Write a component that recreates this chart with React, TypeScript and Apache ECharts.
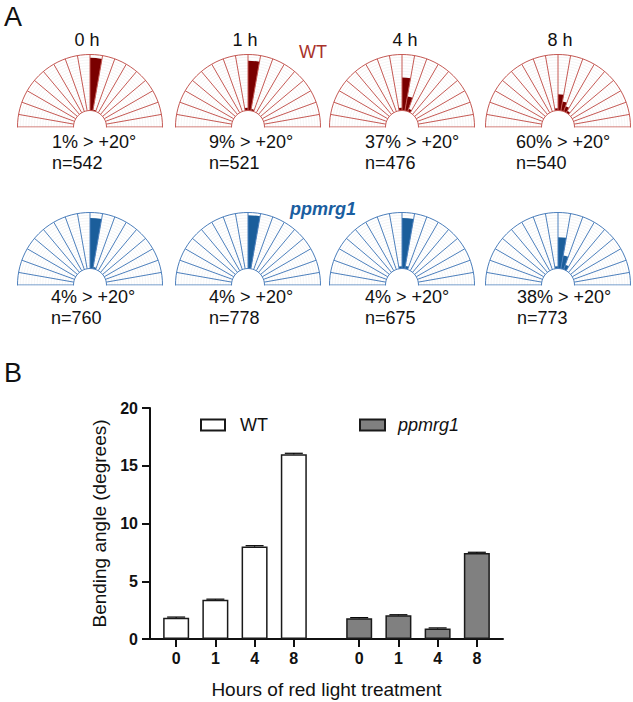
import React, { useEffect, useRef } from "react";
import * as echarts from "echarts";

// ---------- Panel A data ----------
const timePoints = ["0 h", "1 h", "4 h", "8 h"];
// upper half-circle bins, left (-90) to right (+90)
const angleBins = ["-90", "-80", "-70", "-60", "-50", "-40", "-30", "-20", "-10", "0", "10", "20", "30", "40", "50", "60", "70", "80"];

const wtHist0 = [0, 0, 0, 0, 0, 0, 0, 0, 0, 94, 2, 0, 0, 0, 0, 0, 0, 0];
const wtHist1 = [0, 0, 0, 0, 0, 0, 0, 0, 5, 89, 3, 0, 0, 0, 0, 0, 0, 0];
const wtHist4 = [0, 0, 0, 0, 0, 0, 0, 0, 5, 59, 26, 5, 0, 0, 0, 0, 0, 0];
const wtHist8 = [0, 0, 0, 0, 0, 0, 0, 0, 4, 29, 17, 10, 4, 0, 0, 0, 0, 0];
const mutHist0 = [0, 0, 0, 0, 0, 0, 0, 0, 0, 90, 3, 0, 0, 0, 0, 0, 0, 0];
const mutHist1 = [0, 0, 0, 0, 0, 0, 0, 0, 0, 95, 0, 0, 0, 0, 0, 0, 0, 0];
const mutHist4 = [0, 0, 0, 0, 0, 0, 0, 0, 4, 90, 5, 0, 0, 0, 0, 0, 0, 0];
const mutHist8 = [0, 0, 0, 0, 0, 0, 0, 0, 4, 56, 24, 9, 0, 0, 0, 0, 0, 0];

const wtPct = ["1% > +20°", "9% > +20°", "37% > +20°", "60% > +20°"];
const wtN = ["n=542", "n=521", "n=476", "n=540"];
const mutPct = ["4% > +20°", "4% > +20°", "4% > +20°", "38% > +20°"];
const mutN = ["n=760", "n=778", "n=675", "n=773"];

// ---------- Panel B data ----------
const hours = ["0", "1", "4", "8"];
const wtAngle = [1.85, 3.4, 8.0, 16.0];
const wtErr = [0.05, 0.05, 0.08, 0.08];
const mutAngle = [1.8, 2.05, 0.9, 7.45];
const mutErr = [0.05, 0.05, 0.06, 0.06];

// ---------- layout / style ----------
const FONT = 'Arial, "Liberation Sans", Helvetica, sans-serif';
const centersX = [90, 248, 402, 558];
const rowY = [127, 285];
const titleX = [87, 245, 405, 560];
const wtTextX = [52, 209, 365, 516];
const mutTextX = [51, 209, 365, 517];
const R_IN = 16.5;
const R_OUT = 72.5;
const wtLine = "#c65a55";
const wtBar = "#7a0000";
const mutLine = "#4d80bd";
const mutBar = "#1b5e9b";

export default function App() {
  const ref = useRef<HTMLDivElement>(null);

  useEffect(() => {
    if (!ref.current) return;
    const chart = echarts.init(ref.current, undefined, { renderer: "svg" });

    const rows = [
      { hists: [wtHist0, wtHist1, wtHist4, wtHist8], line: wtLine, bar: wtBar },
      { hists: [mutHist0, mutHist1, mutHist4, mutHist8], line: mutLine, bar: mutBar },
    ];

    // full circle: upper half = the histogram bins, lower half = empty (masked)
    const fullBins = angleBins.concat(angleBins.map((b) => "lower" + b));

    const polar: any[] = [];
    const angleAxis: any[] = [];
    const radiusAxis: any[] = [];
    const series: any[] = [];
    const graphic: any[] = [];
    rows.forEach((row, r) => {
      row.hists.forEach((h, c) => {
        const idx = polar.length;
        polar.push({ center: [centersX[c], rowY[r]], radius: [R_IN, R_OUT] });
        angleAxis.push({
          polarIndex: idx,
          type: "category",
          data: fullBins,
          startAngle: 180,
          clockwise: true,
          boundaryGap: true,
          axisLine: { show: true, lineStyle: { color: row.line, width: 1 } },
          axisTick: { show: false, interval: 0 },
          axisLabel: { show: false, interval: 0 },
          splitLine: { show: true, interval: 0, lineStyle: { color: row.line, width: 1 } },
          z: 5,
        });
        radiusAxis.push({
          polarIndex: idx,
          type: "value",
          min: 0,
          max: 100,
          interval: 5,
          axisLine: { show: false },
          axisTick: { show: false },
          axisLabel: { show: false },
          splitLine: { show: true, lineStyle: { color: "#efefef", width: 0.6 } },
        });
        series.push({
          type: "bar",
          coordinateSystem: "polar",
          polarIndex: idx,
          data: h.concat(angleBins.map(() => 0)),
          barCategoryGap: "0%",
          itemStyle: { color: row.bar },
          silent: true,
          z: 3,
        });
        // white mask hiding the lower half of the circle
        graphic.push({
          type: "rect",
          silent: true,
          z: 50,
          shape: { x: centersX[c] - R_OUT - 3, y: rowY[r] + 0.6, width: 2 * R_OUT + 6, height: R_OUT + 4 },
          style: { fill: "#ffffff" },
        });
      });
    });

    // ---------- Panel B category slots ----------
    const slots: string[] = ["", ""];
    const wtSlot: number[] = [];
    const mutSlot: number[] = [];
    hours.forEach((hr, i) => {
      if (i > 0) slots.push("", "");
      wtSlot.push(slots.length);
      slots.push(hr);
    });
    slots.push("", "", "", "");
    hours.forEach((hr, i) => {
      if (i > 0) slots.push("", "");
      mutSlot.push(slots.length);
      slots.push(hr);
    });
    slots.push("", "");

    const wtData: any[] = slots.map(() => "-");
    const mutData: any[] = slots.map(() => "-");
    wtSlot.forEach((s, i) => (wtData[s] = wtAngle[i]));
    mutSlot.forEach((s, i) => (mutData[s] = mutAngle[i]));
    const errData: any[] = [];
    wtSlot.forEach((s, i) => errData.push([s, wtAngle[i], wtErr[i]]));
    mutSlot.forEach((s, i) => errData.push([s, mutAngle[i], mutErr[i]]));

    series.push(
      {
        name: "WT",
        type: "bar",
        xAxisIndex: 0,
        yAxisIndex: 0,
        data: wtData,
        barWidth: 26,
        barGap: "-100%",
        itemStyle: { color: "#ffffff", borderColor: "#1a1a1a", borderWidth: 1.5 },
      },
      {
        name: "ppmrg1",
        type: "bar",
        xAxisIndex: 0,
        yAxisIndex: 0,
        data: mutData,
        barWidth: 26,
        barGap: "-100%",
        itemStyle: { color: "#808080", borderColor: "#1a1a1a", borderWidth: 1.5 },
      },
      {
        type: "custom",
        xAxisIndex: 0,
        yAxisIndex: 0,
        data: errData,
        encode: { x: 0, y: 1 },
        z: 10,
        renderItem: (params: any, api: any) => {
          const base = api.coord([api.value(0), api.value(1)]);
          const top = api.coord([api.value(0), api.value(1) + api.value(2)]);
          const hw = 9;
          return {
            type: "group",
            children: [
              { type: "line", shape: { x1: base[0], y1: base[1], x2: top[0], y2: top[1] }, style: { stroke: "#000", lineWidth: 1.2 } },
              { type: "line", shape: { x1: top[0] - hw, y1: top[1], x2: top[0] + hw, y2: top[1] }, style: { stroke: "#000", lineWidth: 1.2 } },
            ],
          };
        },
      }
    );

    // ---------- graphic texts ----------
    const txt = (text: string, x: number, y: number, extra: any = {}) => ({
      type: "text",
      x,
      y,
      z: 60,
      silent: true,
      style: {
        text,
        fontFamily: FONT,
        fontSize: 18,
        fill: "#111",
        align: "left",
        verticalAlign: "middle",
        ...extra,
      },
    });
    graphic.push(txt("A", 4, 17, { fontSize: 27 }));
    graphic.push(txt("B", 4, 373, { fontSize: 27 }));
    timePoints.forEach((t, i) => graphic.push(txt(t, titleX[i], 40, { align: "center" })));
    graphic.push(txt("WT", 313, 52, { align: "center", fill: "#a8322b" }));
    graphic.push(txt("ppmrg1", 323, 209, { align: "center", fill: "#1a5ea0", fontWeight: "bold", fontStyle: "italic" }));
    wtPct.forEach((t, i) => graphic.push(txt(t, wtTextX[i], 142)));
    wtN.forEach((t, i) => graphic.push(txt(t, wtTextX[i], 163)));
    mutPct.forEach((t, i) => graphic.push(txt(t, mutTextX[i], 297)));
    mutN.forEach((t, i) => graphic.push(txt(t, mutTextX[i], 318)));

    const option: any = {
      animation: false,
      backgroundColor: "#ffffff",
      textStyle: { fontFamily: FONT },
      polar,
      angleAxis,
      radiusAxis,
      grid: { left: 150, top: 408, width: 353, height: 231 },
      xAxis: {
        type: "category",
        data: slots,
        boundaryGap: false,
        axisLine: { show: true, lineStyle: { color: "#111", width: 2 } },
        axisTick: {
          show: true,
          interval: (_i: number, v: string) => v !== "",
          length: 8,
          lineStyle: { color: "#111", width: 2 },
        },
        axisLabel: { interval: 0, fontFamily: FONT, fontWeight: "bold", fontSize: 16, color: "#111", margin: 11 },
        splitLine: { show: false },
        name: "Hours of red light treatment",
        nameLocation: "middle",
        nameGap: 41,
        nameTextStyle: { fontFamily: FONT, fontSize: 19, color: "#111" },
      },
      yAxis: {
        type: "value",
        min: 0,
        max: 20,
        interval: 5,
        axisLine: { show: true, lineStyle: { color: "#111", width: 2 } },
        axisTick: { show: true, length: 8, lineStyle: { color: "#111", width: 2 } },
        axisLabel: { fontFamily: FONT, fontWeight: "bold", fontSize: 16, color: "#111", margin: 12 },
        splitLine: { show: false },
        name: "Bending angle (degrees)",
        nameLocation: "middle",
        nameGap: 40,
        nameRotate: 90,
        nameTextStyle: { fontFamily: FONT, fontSize: 19, color: "#111" },
      },
      legend: [
        {
          data: ["WT"],
          left: 195,
          top: 411,
          itemWidth: 24,
          itemHeight: 11,
          icon: "rect",
          textStyle: { fontFamily: FONT, fontSize: 18, color: "#111", padding: [0, 0, 0, 10] },
          selectedMode: false,
        },
        {
          data: ["ppmrg1"],
          left: 354,
          top: 411,
          itemWidth: 25,
          itemHeight: 11,
          icon: "rect",
          textStyle: { fontFamily: FONT, fontSize: 18, fontStyle: "italic", color: "#111", padding: [0, 0, 0, 8] },
          selectedMode: false,
        },
      ],
      graphic,
      series,
    };

    chart.setOption(option);
    return () => chart.dispose();
  }, []);

  return (
    <div
      ref={ref}
      style={{ position: "fixed", left: 0, top: 0, width: 633, height: 702, background: "#fff" }}
    />
  );
}
